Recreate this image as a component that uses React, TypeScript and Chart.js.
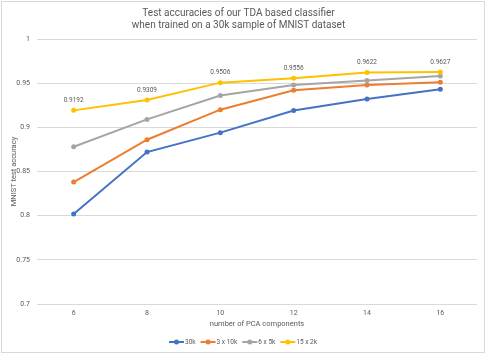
import React, { useEffect, useRef } from "react";
import { Chart, registerables } from "chart.js";
Chart.register(...registerables);

const categories = ["6", "8", "10", "12", "14", "16"];
const series30k = [0.802, 0.872, 0.894, 0.919, 0.932, 0.943];
const series3x10k = [0.838, 0.886, 0.92, 0.942, 0.948, 0.951];
const series6x5k = [0.878, 0.909, 0.936, 0.948, 0.953, 0.958];
const series15x2k = [0.9192, 0.9309, 0.9506, 0.9556, 0.9622, 0.9627];
const seriesNames = ["30k", "3 x 10k", "6 x 5k", "15 x 2k"];
const seriesColors = ["#4472C4", "#ED7D31", "#A5A5A5", "#FFC000"];
const yTickValues = [0.7, 0.75, 0.8, 0.85, 0.9, 0.95, 1];
const yTickLabels = ["0.7", "0.75", "0.8", "0.85", "0.9", "0.95", "1"];
const titleLines = [
  "Test accuracies of our TDA based classifier",
  "when trained on a 30k sample of MNIST dataset",
];
const xTitle = "number of PCA components";
const yTitle = "MNIST test accuracy";
const labeledSeriesIndex = 3;

const FONT = "'Liberation Sans Narrow', Roboto, 'Liberation Sans', sans-serif";
const TEXT = "#595959";

const dataLabelPlugin = {
  id: "dataLabels",
  afterDatasetsDraw(chart: any) {
    const ctx = chart.ctx;
    const meta = chart.getDatasetMeta(labeledSeriesIndex);
    const data = chart.data.datasets[labeledSeriesIndex].data as number[];
    ctx.save();
    ctx.font = `6.5px ${FONT}`;
    ctx.fillStyle = TEXT;
    ctx.textAlign = "center";
    ctx.textBaseline = "middle";
    meta.data.forEach((el: any, i: number) => {
      ctx.fillText(data[i].toFixed(4), el.x, el.y - 10);
    });
    ctx.restore();
  },
};

const legendPlugin = {
  id: "customLegend",
  afterDraw(chart: any) {
    const ctx = chart.ctx;
    ctx.save();
    ctx.font = `6.5px ${FONT}`;
    const lineW = 15;
    const gap = 1;
    const itemGap = 5;
    const widths = seriesNames.map((n) => lineW + gap + ctx.measureText(n).width);
    const total = widths.reduce((a, b) => a + b, 0) + itemGap * (widths.length - 1);
    let x = chart.width / 2 - total / 2;
    const y = 342;
    seriesNames.forEach((n, i) => {
      ctx.strokeStyle = seriesColors[i];
      ctx.lineWidth = 2;
      ctx.beginPath();
      ctx.moveTo(x, y);
      ctx.lineTo(x + lineW, y);
      ctx.stroke();
      ctx.fillStyle = seriesColors[i];
      ctx.beginPath();
      ctx.arc(x + lineW / 2, y, 2.5, 0, Math.PI * 2);
      ctx.fill();
      ctx.fillStyle = TEXT;
      ctx.textAlign = "left";
      ctx.textBaseline = "middle";
      ctx.fillText(n, x + lineW + gap, y);
      x += widths[i] + itemGap;
    });
    ctx.restore();
  },
};

export default function App() {
  const ref = useRef<HTMLCanvasElement>(null);
  useEffect(() => {
    const allSeries = [series30k, series3x10k, series6x5k, series15x2k];
    const chart = new Chart(ref.current!, {
      type: "line",
      data: {
        labels: categories,
        datasets: allSeries.map((d, i) => ({
          label: seriesNames[i],
          data: d,
          borderColor: seriesColors[i],
          backgroundColor: seriesColors[i],
          borderWidth: 2,
          pointRadius: 2.5,
          pointBorderWidth: 0,
          pointHoverRadius: 2.5,
          tension: 0,
          order: 3 - i,
        })),
      },
      options: {
        animation: false,
        responsive: false,
        devicePixelRatio: 1,
        layout: { padding: { left: 0, right: 9, top: 0, bottom: 0 } },
        plugins: {
          legend: { display: false },
          tooltip: { enabled: false },
          title: {
            display: true,
            text: titleLines,
            color: TEXT,
            font: { family: FONT, size: 10, weight: "normal", lineHeight: 1.2 },
            padding: { top: 7, bottom: 8 },
          },
        },
        scales: {
          x: {
            offset: true,
            grid: { display: false, drawTicks: false },
            border: { display: false },
            ticks: { color: TEXT, font: { family: FONT, size: 7 }, padding: 5 },
            title: {
              display: true,
              text: xTitle,
              color: TEXT,
              font: { family: FONT, size: 7.5 },
              padding: { top: 0, bottom: 25.5 },
            },
            afterFit: (s: any) => {
              s.height = 50;
            },
          },
          y: {
            min: 0.7,
            max: 1,
            grid: { color: "#d9d9d9", drawTicks: false, lineWidth: 1 },
            border: { display: false },
            afterBuildTicks: (s: any) => {
              s.ticks = yTickValues.map((v) => ({ value: v }));
            },
            ticks: {
              color: TEXT,
              font: { family: FONT, size: 7 },
              padding: 7,
              callback: (v: any) => {
                const idx = yTickValues.findIndex((t) => Math.abs(t - v) < 1e-9);
                return idx >= 0 ? yTickLabels[idx] : "";
              },
            },
            title: {
              display: true,
              text: yTitle,
              color: TEXT,
              font: { family: FONT, size: 7.5 },
              padding: { top: 10, bottom: 0 },
            },
            afterFit: (s: any) => {
              s.width = 37;
            },
          },
        },
      },
      plugins: [dataLabelPlugin, legendPlugin],
    });
    return () => chart.destroy();
  }, []);
  return (
    <div style={{ position: "absolute", left: 0, top: 0, width: 486, height: 354, background: "#fff" }}>
      <canvas ref={ref} width={486} height={354} style={{ display: "block", width: 486, height: 354 }} />
      <div
        style={{
          position: "absolute",
          left: 1,
          top: 1,
          width: 484,
          height: 352,
          border: "1px solid #d9d9d9",
          boxSizing: "border-box",
          pointerEvents: "none",
        }}
      />
    </div>
  );
}
